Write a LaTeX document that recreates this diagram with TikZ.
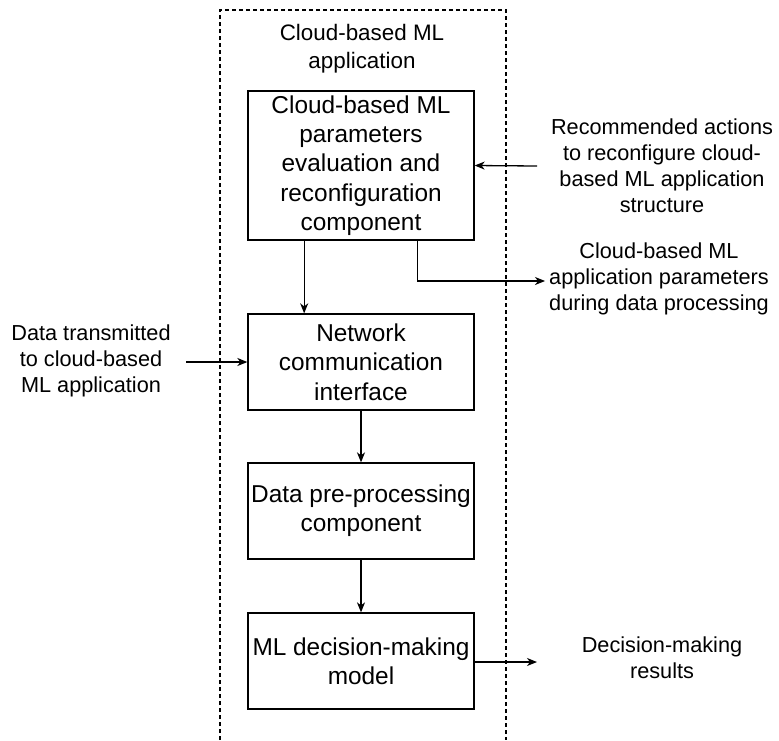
\documentclass[tikz,border=0pt]{standalone}
\usepackage{fontspec}
\setmainfont{Liberation Sans}
\usetikzlibrary{arrows.meta,calc}
\tikzset{
  txt/.style={font=\fontsize{21.7}{26}\selectfont, align=center, inner sep=2pt},
  blk/.style={draw, line width=1.3pt, rectangle, inner sep=0pt, minimum width=226pt,
    font=\fontsize{24.4}{29.3}\selectfont, align=center},
  arr/.style={line width=1.3pt, -{Stealth[length=10pt,width=8pt,inset=3pt]}},
  frame/.style={line width=1.1pt, dash pattern=on 4pt off 3pt}
}
\begin{document}
\begin{tikzpicture}[x=1pt,y=-1pt]
\useasboundingbox (0,0) rectangle (779,740);

% container of the application (open at the bottom)
\draw[frame] (220,740) -- (220,10) -- (506,10) -- (506,740);
\node[txt, font=\fontsize{22.4}{28}\selectfont] (title) at (362,49) {Cloud-based ML\\application};

% processing blocks
\node[blk, minimum height=149pt] (b1) at (361,165.5)
  {Cloud-based ML\\parameters\\evaluation and\\reconfiguration\\component};
\node[blk, minimum height=96pt] (b2) at (361,362)
  {Network\\communication\\interface};
\node[blk, minimum height=96pt] (b3) at (361,511)
  {Data pre-processing\\component};
\node[blk, minimum height=96pt] (b4) at (361,661)
  {ML decision-making\\model};

% external labels
\node[txt] (rec) at (662,166)
  {Recommended actions\\to reconfigure cloud-\\based ML application\\structure};
\node[txt] (params) at (659,279)
  {Cloud-based ML\\application parameters\\during data processing};
\node[txt] (data) at (91,361)
  {Data transmitted\\to cloud-based\\ML application};
\node[txt] (res) at (662,658)
  {Decision-making\\results};

% free ends of the outer arrows
\coordinate (recIn) at (537,166);
\coordinate (dataIn) at (186,362);
\coordinate (resOut) at (537,662);

% connectors
\coordinate (b1a) at ($(b1.south west)!0.25!(b1.south east)$);
\coordinate (b1b) at ($(b1.south west)!0.75!(b1.south east)$);
\draw[arr] (b1a) -- (b1a |- b2.north);
\draw[arr] (b1b) |- ([xshift=-2pt]params.west |- 0,281);
\draw[arr] (recIn) -- (b1.east);
\draw[arr] (dataIn) -- (b2.west);
\draw[arr] (b2.south) -- (b3.north);
\draw[arr] (b3.south) -- (b4.north);
\draw[arr] (b4.east |- resOut) -- (resOut);
\end{tikzpicture}
\end{document}
